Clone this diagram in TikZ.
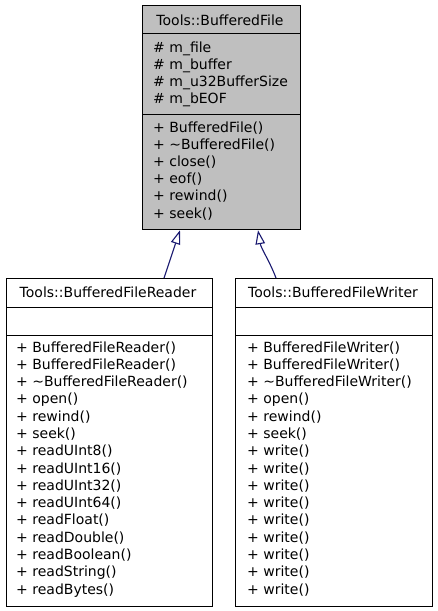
\documentclass[tikz,border=0pt]{standalone}
\usepackage{fontspec}
\setmainfont{DejaVu Sans}
\usetikzlibrary{arrows.meta,calc}
\definecolor{boxgray}{HTML}{BFBFBF}
\definecolor{edgeblue}{HTML}{191970}
\tikzset{
  comp/.style={draw=black, line width=1.2pt, anchor=north west, inner sep=0pt},
  txt/.style={inner sep=0pt, font=\fontsize{14}{16}\selectfont},
  inherit/.style={draw=edgeblue, line width=1.1pt, -{Triangle[length=14pt,width=9.5pt,fill=white,line width=1.1pt]}}
}
\begin{document}
\begin{tikzpicture}[x=1pt,y=-1pt]
\useasboundingbox (0,0) rectangle (437,611);
% parent
\node[comp, fill=boxgray, minimum width=158pt, minimum height=28pt] (bt) at (142,5) {};
\node[comp, fill=boxgray, minimum width=158pt, minimum height=81pt] (ba) at (142,33) {};
\node[comp, fill=boxgray, minimum width=158pt, minimum height=115pt] (bm) at (142,114) {};
\node[txt, anchor=base] (btt) at (220,25) {Tools::BufferedFile};
\foreach \t [count=\i] in {\# m\_file, \# m\_buffer, \# m\_u32BufferSize, \# m\_bEOF}
  \node[txt, anchor=base west] (bat\i) at (153,{52+(\i-1)*17.25}) {\t};
\foreach \t [count=\i] in {+ BufferedFile(), + \textasciitilde BufferedFile(), + close(), + eof(), + rewind(), + seek()}
  \node[txt, anchor=base west] (bmt\i) at (153,{132+(\i-1)*17.2}) {\t};
% reader
\node[comp, fill=white, minimum width=206pt, minimum height=29pt] (lt) at (6,278) {};
\node[comp, fill=white, minimum width=206pt, minimum height=28pt] (la) at (6,307) {};
\node[comp, fill=white, minimum width=206pt, minimum height=271pt] (lm) at (6,335) {};
\node[txt, anchor=base] (ltt) at (108,297) {Tools::BufferedFileReader};
\foreach \t [count=\i] in {+ BufferedFileReader(), + BufferedFileReader(), + \textasciitilde BufferedFileReader(), + open(), + rewind(), + seek(), + readUInt8(), + readUInt16(), + readUInt32(), + readUInt64(), + readFloat(), + readDouble(), + readBoolean(), + readString(), + readBytes()}
  \node[txt, anchor=base west] (lmt\i) at (16,{352+(\i-1)*17.29}) {\t};
% writer
\node[comp, fill=white, minimum width=197pt, minimum height=29pt] (rt) at (235,278) {};
\node[comp, fill=white, minimum width=197pt, minimum height=28pt] (ra) at (235,307) {};
\node[comp, fill=white, minimum width=197pt, minimum height=271pt] (rm) at (235,335) {};
\node[txt, anchor=base] (rtt) at (333,297) {Tools::BufferedFileWriter};
\foreach \t [count=\i] in {+ BufferedFileWriter(), + BufferedFileWriter(), + \textasciitilde BufferedFileWriter(), + open(), + rewind(), + seek(), + write(), + write(), + write(), + write(), + write(), + write(), + write(), + write(), + write()}
  \node[txt, anchor=base west] (rmt\i) at (247,{352+(\i-1)*17.29}) {\t};
% connectors
\coordinate (tipL) at ($(bm.south west)+(38,0)$);
\coordinate (tipR) at ($(bm.south west)+(116,0)$);
\coordinate (srcL) at ($(lt.north west)+(158,0)$);
\coordinate (srcR) at ($(rt.north west)+(41,0)$);
\draw[inherit] (srcL) -- (tipL);
\draw[inherit] (srcR) .. controls ($(srcR)+(-6,-16)$) and ($(tipR)+(3,18)$) .. (tipR);
\end{tikzpicture}
\end{document}
